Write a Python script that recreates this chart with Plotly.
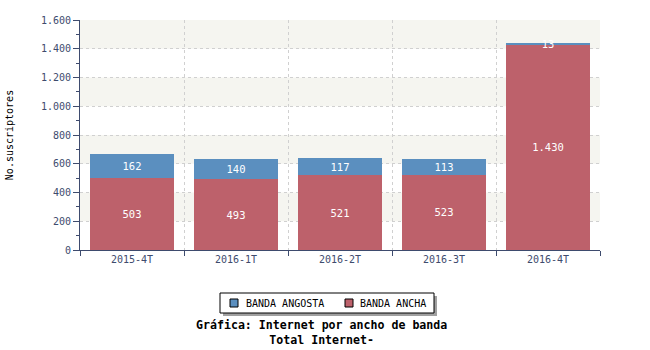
import plotly.graph_objects as go

categories = ["2015-4T", "2016-1T", "2016-2T", "2016-3T", "2016-4T"]
banda_ancha = [503, 493, 521, 523, 1430]
banda_angosta = [162, 140, 117, 113, 13]
series_names = ["BANDA ANGOSTA", "BANDA ANCHA"]
y_ticks = [0, 200, 400, 600, 800, 1000, 1200, 1400, 1600]

FONT = "DejaVu Sans Mono"
AXIS_COLOR = "#3e4b6e"
BLUE = "#5b8fbf"
RED = "#bd616b"

L, R, T, B = 80, 50, 20, 100
PW, PH = 650 - L - R, 350 - T - B


def px(x):
    return (x - L) / PW


def py(y):
    return (350 - B - y) / PH


fig = go.Figure()
fig.add_trace(go.Bar(
    x=categories, y=banda_ancha, name=series_names[1],
    marker=dict(color=RED, line=dict(width=0)),
    text=[f"{v:,}".replace(",", ".") for v in banda_ancha],
    textposition="inside", insidetextanchor="middle",
    textfont=dict(color="white", size=10.5, family=FONT),
    showlegend=False,
))
fig.add_trace(go.Bar(
    x=categories, y=banda_angosta, name=series_names[0],
    marker=dict(color=BLUE, line=dict(width=0)),
    text=[str(v) for v in banda_angosta],
    textposition="inside", insidetextanchor="middle",
    textfont=dict(color="white", size=10.5, family=FONT),
    showlegend=False,
))

shapes = []
for i in range(len(y_ticks) - 1):
    if i % 2 == 1:
        shapes.append(dict(type="rect", xref="paper", yref="y", x0=0, x1=1,
                           y0=y_ticks[i], y1=y_ticks[i + 1],
                           fillcolor="#f5f5f0", line=dict(width=0), layer="below"))

# custom legend box (shadow + box + swatches)
shapes.append(dict(type="rect", xref="paper", yref="paper",
                   x0=px(223), x1=px(437), y0=py(316), y1=py(296),
                   fillcolor="#a0a0a0", line=dict(width=0)))
shapes.append(dict(type="rect", xref="paper", yref="paper",
                   x0=px(220), x1=px(434), y0=py(313), y1=py(293),
                   fillcolor="white", line=dict(color="black", width=1)))
legend_items = [(series_names[0], BLUE, 230, 244), (series_names[1], RED, 345, 358)]
annotations = []
for name, col, sx, tx in legend_items:
    shapes.append(dict(type="rect", xref="paper", yref="paper",
                       x0=px(sx), x1=px(sx + 8), y0=py(307), y1=py(299),
                       fillcolor=col, line=dict(color="black", width=1)))
    annotations.append(dict(text=name, xref="paper", yref="paper", x=px(tx), y=py(303),
                            xanchor="left", yanchor="middle", showarrow=False,
                            font=dict(family=FONT, size=10, color="black")))

annotations.append(dict(text="<b>Gráfica: Internet por ancho de banda</b><br><b>Total Internet-</b>",
                        xref="paper", yref="paper", x=px(321), y=py(316),
                        xanchor="center", yanchor="top", showarrow=False,
                        font=dict(family=FONT, size=11.6, color="black")))

fig.update_layout(
    width=650, height=350,
    margin=dict(l=L, r=R, t=T, b=B),
    barmode="stack", bargap=0.19,
    paper_bgcolor="white", plot_bgcolor="white",
    separators=",.",
    font=dict(family=FONT, size=10, color=AXIS_COLOR),
    uniformtext=dict(minsize=10, mode="show"),
    showlegend=False,
    shapes=shapes,
    annotations=annotations,
)
fig.update_xaxes(
    type="category", showline=True, linecolor=AXIS_COLOR, linewidth=1,
    ticks="outside", tickson="boundaries", ticklen=5, tickcolor=AXIS_COLOR,
    showgrid=True, gridcolor="#d0d0d0", griddash="3px,3px", gridwidth=1,
    tickfont=dict(family=FONT, size=10, color=AXIS_COLOR),
    automargin=False,
)
fig.update_yaxes(
    range=[0, 1600], tickvals=y_ticks, tickformat=",d",
    showline=True, linecolor=AXIS_COLOR, linewidth=1,
    ticks="outside", ticklen=6, tickcolor=AXIS_COLOR,
    minor=dict(ticks="outside", ticklen=3, dtick=100, tickcolor=AXIS_COLOR, showgrid=False),
    showgrid=True, gridcolor="#d0d0d0", griddash="3px,3px", gridwidth=1,
    zeroline=False, automargin=False,
    title=dict(text="No.suscriptores", font=dict(family=FONT, size=10, color="black"), standoff=25),
    tickfont=dict(family=FONT, size=10, color=AXIS_COLOR),
)

fig.write_html("out.html")
